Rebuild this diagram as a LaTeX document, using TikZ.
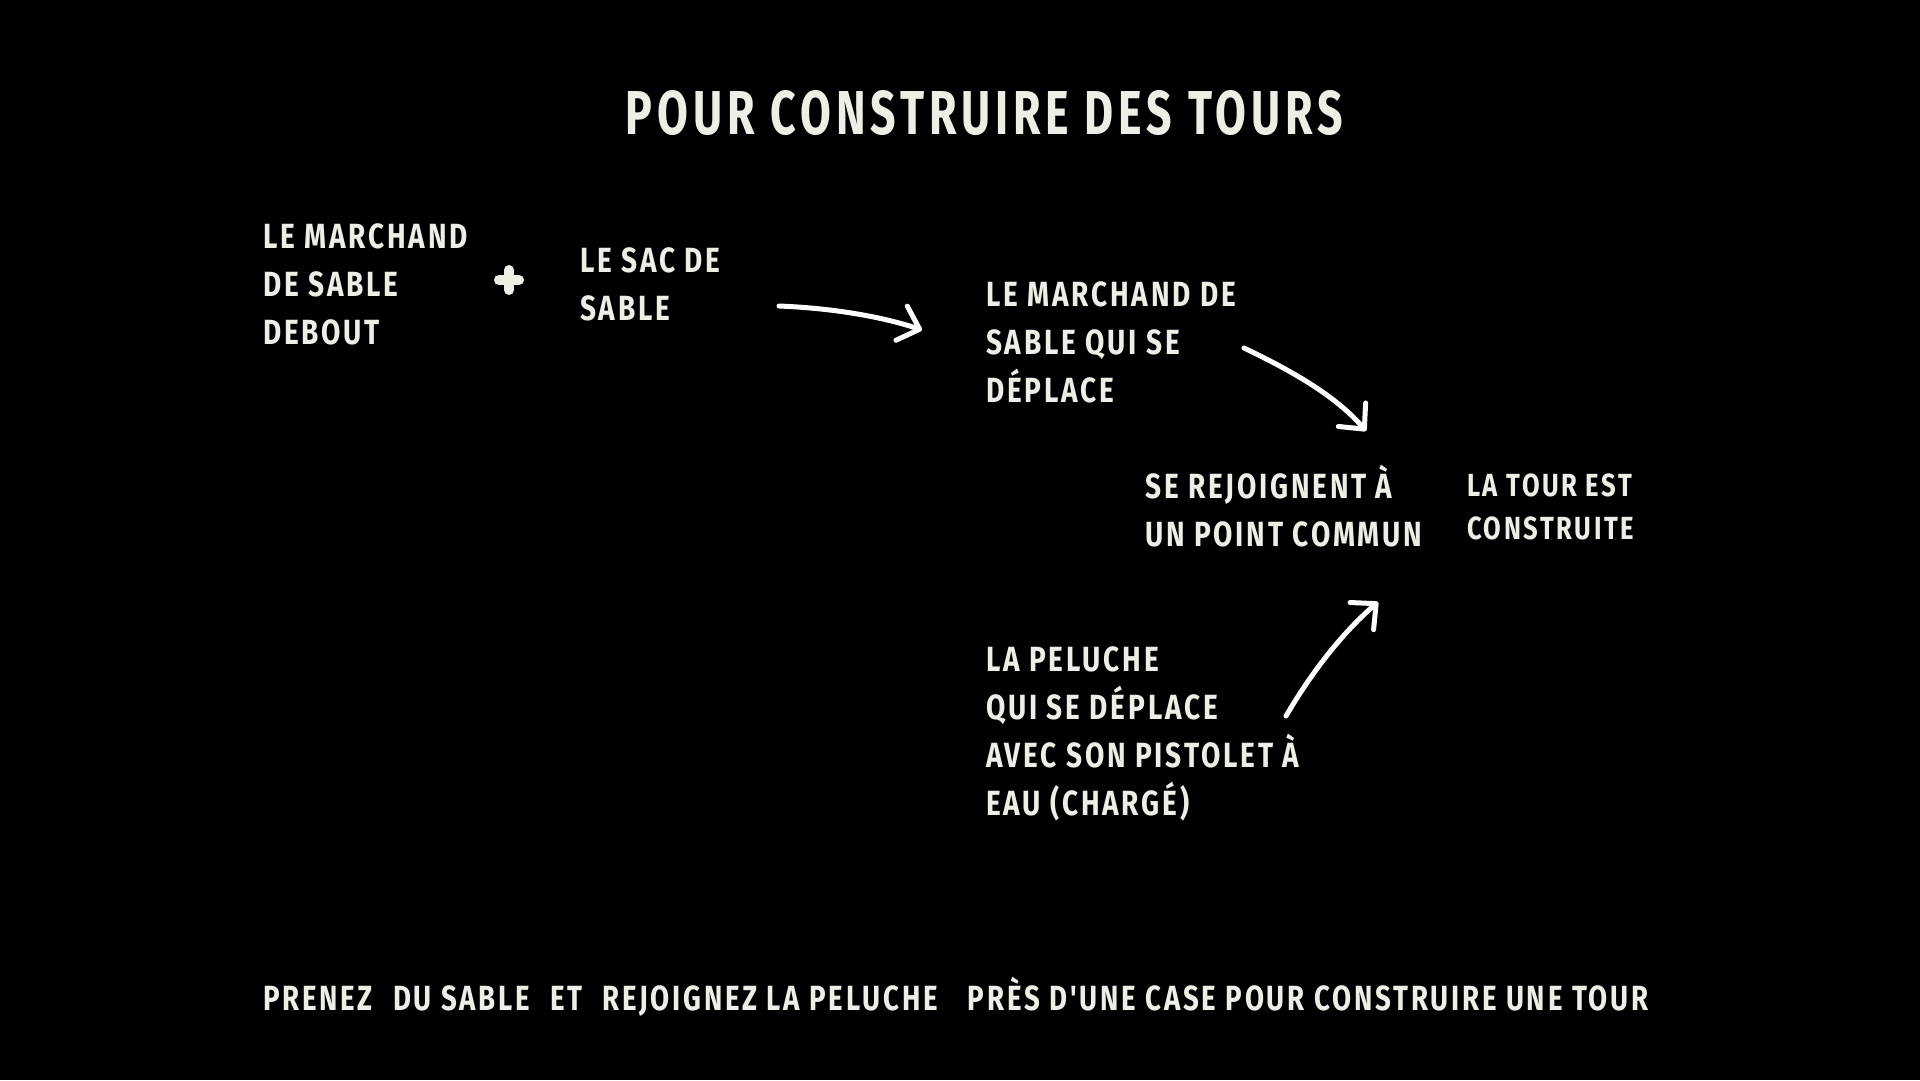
\documentclass[tikz,border=0pt]{standalone}
\usepackage{fontspec}
\setmainfont{Fira Sans}
\newfontfamily\hand{Fira Sans Bold}[FakeStretch=0.8, LetterSpace=8]
\newfontfamily\handtitle{Fira Sans Bold}[FakeStretch=0.72, LetterSpace=8]
\newfontfamily\handbottom{Fira Sans Bold}[FakeStretch=0.79, LetterSpace=8]
\usetikzlibrary{arrows.meta}
\definecolor{ink}{HTML}{EEEEE6}
\newcommand{\tallrule}[1]{\rule{0pt}{#1}}
\begin{document}
\begin{tikzpicture}[x=1pt,y=-1pt,
  txt/.style={anchor=north west, inner sep=0pt, text=ink, align=left,
    font=\hand\fontsize{35}{48}\selectfont},
  small/.style={anchor=north west, inner sep=0pt, text=ink, align=left,
    font=\hand\fontsize{32}{43}\selectfont},
  arr/.style={draw=white, line width=5pt, line cap=round, line join=round,
    -{Straight Barb[length=19pt, width=36pt, line width=5pt, round]}},
]
\fill[black] (0,0) rectangle (1920,1080);
\useasboundingbox (0,0) rectangle (1920,1080);

\node[anchor=base, inner sep=0pt, text=ink, font=\handtitle\fontsize{62}{70}\selectfont]
  (title) at (984.5,134.5) {POUR CONSTRUIRE DES TOURS};

\node[txt] (marchand) at (263,214) {\tallrule{34pt}LE MARCHAND\\DE SABLE\\DEBOUT};
\node[txt] (sac) at (580,238) {\tallrule{34pt}LE SAC DE\\SABLE};
\node[txt] (deplace) at (986,272) {\tallrule{34pt}LE MARCHAND DE\\SABLE QUI SE\\DÉPLACE};
\node[txt] (rejoint) at (1145,464) {\tallrule{34pt}SE REJOIGNENT À\\UN POINT COMMUN};
\node[small] (tour) at (1467,465) {\tallrule{31pt}LA TOUR EST\\CONSTRUITE};
\node[txt] (peluche) at (986,637) {\tallrule{34pt}LA PELUCHE\\QUI SE DÉPLACE\\AVEC SON PISTOLET À\\EAU (CHARGÉ)};

\node[anchor=base west, inner sep=0pt, text=ink, font=\handbottom\fontsize{35}{48}\selectfont]
  (bottom) at (263,1010) {PRENEZ\hspace{20pt}DU SABLE\hspace{20pt}ET\hspace{20pt}REJOIGNEZ LA PELUCHE\hspace{30pt}PRÈS D'UNE CASE POUR CONSTRUIRE UNE TOUR};

% plus sign
\coordinate (plus) at (509,280);
\draw[ink, line width=10pt, line cap=round] ([xshift=-10pt]plus) -- ([xshift=10pt]plus);
\draw[ink, line width=10pt, line cap=round] ([yshift=-10pt]plus) -- ([yshift=10pt]plus);

% arrows
\coordinate (a1s) at (779,306);
\coordinate (a1e) at (922,330);
\draw[arr] (a1s) .. controls (830,308) and (880,316) .. (a1e);

\coordinate (a2s) at (1244,348);
\coordinate (a2e) at (1366,431);
\draw[arr] (a2s) .. controls (1290,370) and (1335,395) .. (a2e);

\coordinate (a3s) at (1286,716);
\coordinate (a3e) at (1378,602);
\draw[arr] (a3s) .. controls (1310,675) and (1340,635) .. (a3e);
\end{tikzpicture}
\end{document}
